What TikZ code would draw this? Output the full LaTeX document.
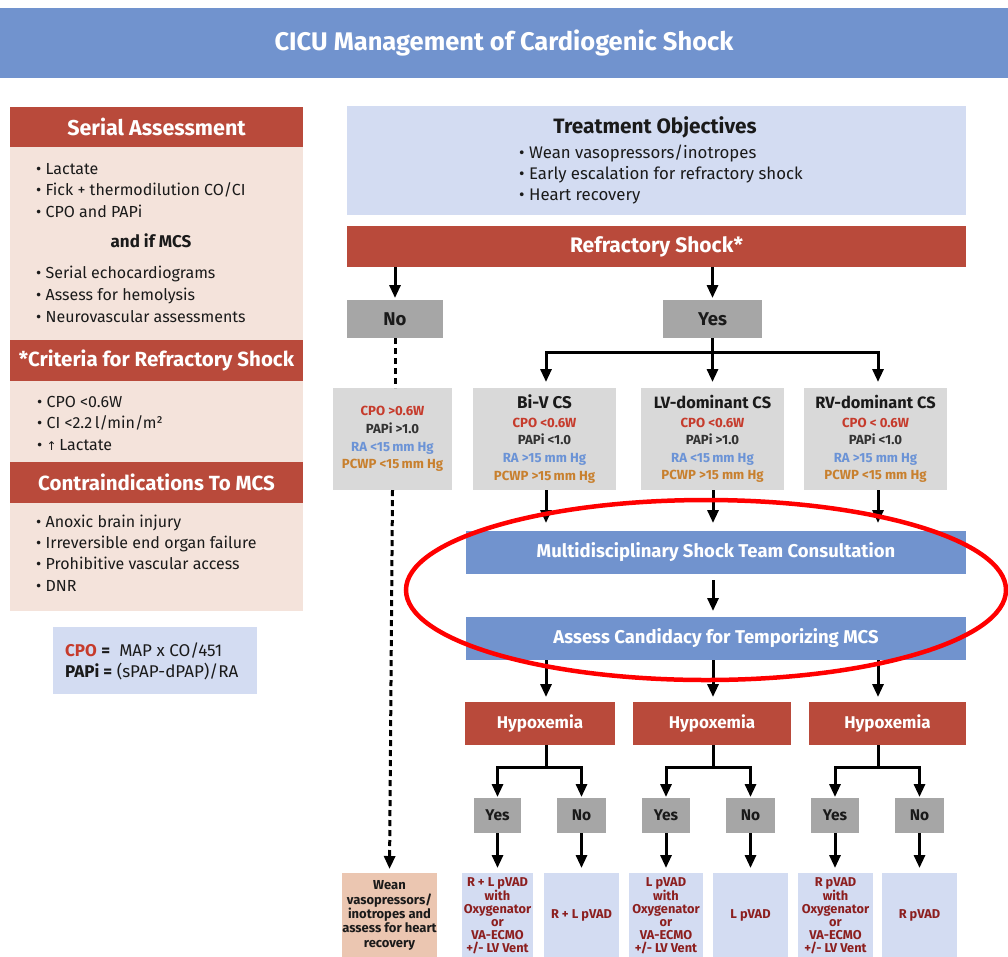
\documentclass[tikz,border=0pt]{standalone}
\usepackage{fontspec}
\setmainfont{Fira Sans}
\newfontfamily\symfont{DejaVu Sans}
\usetikzlibrary{arrows.meta,calc}

\definecolor{hdrblue}{HTML}{7193CE}
\definecolor{boxred}{HTML}{B94A3B}
\definecolor{peach}{HTML}{F4E3DB}
\definecolor{paleblue}{HTML}{D3DCF2}
\definecolor{midgray}{HTML}{A6A6A6}
\definecolor{lightgray}{HTML}{D9D9D9}
\definecolor{weanpeach}{HTML}{EBC6B1}
\definecolor{darkred}{HTML}{8C1F1F}
\definecolor{cpored}{HTML}{C63B2C}
\definecolor{rablue}{HTML}{6B93D6}
\definecolor{pcwporange}{HTML}{C8802E}
\definecolor{ink}{HTML}{1A1A1A}
\definecolor{papigray}{HTML}{333333}

\newcommand{\fs}[2]{\fontsize{#1}{#2}\selectfont}
% rectangle node from corner (x1,y1) to corner (x2,y2)
\newcommand{\rbox}[7]{%
  \node[#6, minimum width={(#4-#2)*1pt}, minimum height={(#5-#3)*1pt}]
    (#1) at ({(#2+#4)/2},{(#3+#5)/2}) {#7};}

\tikzset{
  flat/.style={inner sep=0pt, outer sep=0pt},
  bluebar/.style={flat, fill=hdrblue, text=white, font=\fs{18.5}{20}\bfseries},
  redbar/.style={flat, fill=boxred, text=white, font=\fs{20.5}{22}\bfseries},
  peachbody/.style={flat, fill=peach},
  palebox/.style={flat, fill=paleblue},
  choice/.style={flat, fill=midgray, text=ink, font=\fs{18.5}{20}\bfseries},
  smallchoice/.style={flat, fill=midgray, text=ink, font=\fs{15.5}{18}\bfseries},
  csbox/.style={flat, fill=lightgray, align=center, font=\fs{13.2}{17.6}\bfseries},
  outbox/.style={flat, fill=paleblue, text=darkred, align=center, font=\fs{12.8}{13}\bfseries},
  weanbox/.style={flat, fill=weanpeach, text=ink, align=center, font=\fs{13}{14.3}\bfseries},
  ln/.style={anchor=base west, inner sep=0pt, font=\fs{16}{19}, text=ink},
  lnc/.style={anchor=base, inner sep=0pt, font=\fs{17}{19}\bfseries, text=ink},
  tol/.style={anchor=base west, inner sep=0pt, font=\fs{16.8}{18}, text=ink},
  conn/.style={line width=3pt, black},
  arr/.style={conn, -{Triangle[width=11pt,length=13pt]}},
  dashconn/.style={conn, dash pattern=on 6pt off 4pt},
}

\begin{document}
\begin{tikzpicture}[x=1pt,y=-1pt]
\useasboundingbox[fill=white] (0,0) rectangle (1008,956);

% ---------- title bar ----------
\rbox{hdr}{0}{8}{1008}{78}{flat, fill=hdrblue, text=white, font=\fs{25.5}{28}\bfseries}{CICU Management of Cardiogenic Shock}

% ---------- left column ----------
\rbox{sab}{10}{147}{303}{340}{peachbody}{}
\rbox{sah}{10}{107}{303}{147}{redbar, font=\fs{21.5}{22}\bfseries}{Serial Assessment}
\node[ln] (s1) at (36,174) {\textbullet\ Lactate};
\node[ln] (s2) at (36,195.5) {\textbullet\ Fick + thermodilution CO/CI};
\node[ln] (s3) at (36,217) {\textbullet\ CPO and PAPi};
\node[lnc] (s4) at (151,247.5) {and if MCS};
\node[ln] (s5) at (36,278.5) {\textbullet\ Serial echocardiograms};
\node[ln] (s6) at (36,300.5) {\textbullet\ Assess for hemolysis};
\node[ln] (s7) at (36,322) {\textbullet\ Neurovascular assessments};

\rbox{crb}{10}{381}{303}{462}{peachbody}{}
\rbox{crh}{10}{340}{303}{381}{redbar}{*Criteria for Refractory Shock}
\node[ln] (c1) at (37,407.5) {\textbullet\ CPO <0.6W};
\node[ln] (c2) at (37,428.5) {\textbullet\ CI <2.2\,l/min/m²};
\node[ln] (c3) at (37,450) {\textbullet\ {\symfont\fs{12}{14}↑}\,Lactate};

\rbox{cib}{10}{503}{303}{611}{peachbody}{}
\rbox{cih}{10}{462}{303}{503}{redbar}{Contraindications To MCS}
\node[ln] (k1) at (36,527) {\textbullet\ Anoxic brain injury};
\node[ln] (k2) at (36,548) {\textbullet\ Irreversible end organ failure};
\node[ln] (k3) at (36,569.5) {\textbullet\ Prohibitive vascular access};
\node[ln] (k4) at (36,591) {\textbullet\ DNR};

\rbox{frm}{53}{627}{257}{694}{palebox}{}
\node[ln, font=\fs{17}{19}] (f1) at (65,656) {{\bfseries\color{cpored}CPO} {\bfseries =}\ \ MAP x CO/451};
\node[ln, font=\fs{17}{19}] (f2) at (65,677) {{\bfseries PAPi =} (sPAP-dPAP)/RA};

% ---------- treatment objectives ----------
\rbox{tob}{347}{106}{966}{215}{palebox}{}
\node[anchor=base, inner sep=0pt, font=\fs{20.8}{22}\bfseries, text=ink] (tot) at (655,133) {Treatment Objectives};
\node[tol] (t1) at (519,158.5) {\textbullet\ Wean vasopressors/inotropes};
\node[tol] (t2) at (519,179.5) {\textbullet\ Early escalation for refractory shock};
\node[tol] (t3) at (519,200.5) {\textbullet\ Heart recovery};

\rbox{refr}{347}{226}{966}{267}{redbar, font=\fs{21}{22}\bfseries}{Refractory Shock*}

% ---------- first decision ----------
\rbox{no}{347}{300}{443}{338}{choice}{No}
\rbox{yes}{663}{300}{762}{338}{choice}{Yes}

\coordinate (col1) at (546,0);
\coordinate (col2) at (713,0);
\coordinate (col3) at (878,0);

\rbox{nop}{333}{388}{452}{490}{csbox}{%
  {\color{cpored}CPO >0.6W}\\
  {\color{papigray}PAPi >1.0}\\
  {\color{rablue}RA <15\,mm Hg}\\
  {\color{pcwporange}PCWP <15\,mm Hg}}
\rbox{biv}{473}{388}{616}{490}{csbox}{%
  {\fs{17}{18}\selectfont\color{ink}Bi-V CS}\\[1pt]
  {\color{cpored}CPO <0.6W}\\
  {\color{papigray}PAPi <1.0}\\
  {\color{rablue}RA >15 mm Hg}\\
  {\color{pcwporange}PCWP >15\,mm Hg}}
\rbox{lvd}{641}{388}{784}{490}{csbox}{%
  {\fs{16.4}{18}\selectfont\color{ink}LV-dominant CS}\\[1pt]
  {\color{cpored}CPO <0.6W}\\
  {\color{papigray}PAPi >1.0}\\
  {\color{rablue}RA <15\,mm Hg}\\
  {\color{pcwporange}PCWP >15 mm Hg}}
\rbox{rvd}{804}{388}{947}{490}{csbox}{%
  {\fs{16.4}{18}\selectfont\color{ink}RV-dominant CS}\\[1pt]
  {\color{cpored}CPO < 0.6W}\\
  {\color{papigray}PAPi <1.0}\\
  {\color{rablue}RA >15 mm Hg}\\
  {\color{pcwporange}PCWP <15 mm Hg}}

% ---------- team consultation ----------
\rbox{multi}{466}{531}{966}{574}{bluebar}{Multidisciplinary Shock Team Consultation}
\rbox{assess}{466}{617}{966}{660}{bluebar}{Assess Candidacy for Temporizing MCS}

% ---------- hypoxemia branches ----------
\rbox{hyp1}{465}{702}{615}{745}{redbar, font=\fs{17}{20}\bfseries}{Hypoxemia}
\rbox{hyp2}{633}{702}{791}{745}{redbar, font=\fs{17}{20}\bfseries}{Hypoxemia}
\rbox{hyp3}{809}{702}{966}{745}{redbar, font=\fs{17}{20}\bfseries}{Hypoxemia}

\rbox{y1}{474}{798}{521}{833}{smallchoice}{Yes}
\rbox{n1}{557}{798}{606}{833}{smallchoice}{No}
\rbox{y2}{642}{798}{690}{833}{smallchoice}{Yes}
\rbox{n2}{726}{798}{775}{833}{smallchoice}{No}
\rbox{y3}{811}{798}{859}{833}{smallchoice}{Yes}
\rbox{n3}{895}{798}{944}{833}{smallchoice}{No}

% ---------- outcomes ----------
\rbox{wean}{343}{873}{436}{958}{weanbox}{Wean\\vasopressors/\\inotropes and\\assess for heart\\recovery}
\rbox{o1}{462}{873}{533}{958}{outbox}{R + L pVAD\\with\\Oxygenator\\or\\VA-ECMO\\+/- LV Vent}
\rbox{o2}{544}{873}{619}{958}{outbox}{R + L pVAD}
\rbox{o3}{629}{873}{703}{958}{outbox}{L pVAD\\with\\Oxygenator\\or\\VA-ECMO\\+/- LV Vent}
\rbox{o4}{713}{873}{788}{958}{outbox}{L pVAD}
\rbox{o5}{798}{873}{873}{958}{outbox}{R pVAD\\with\\Oxygenator\\or\\VA-ECMO\\+/- LV Vent}
\rbox{o6}{882}{873}{957}{958}{outbox}{R pVAD}

% ---------- connectors ----------
\draw[arr, shorten >=2pt] (refr.south -| no.north) -- (no.north);
\draw[arr, shorten >=2pt] (refr.south -| yes.north) -- (yes.north);

\draw[arr, shorten >=6pt] (yes.south) -- ++(0,14) -| (col1 |- biv.north);
\draw[arr, shorten >=6pt] (yes.south) -- (yes.south |- lvd.north);
\draw[arr, shorten >=6pt] (yes.south) -- ++(0,14) -| (col3 |- rvd.north);

\draw[dashconn] (no.south) -- (no.south |- nop.north);
\draw[dashconn, -{Triangle[width=11pt,length=13pt]}, shorten >=4pt] (nop.south) -- (wean.north);

\draw[arr, shorten >=8pt] (col1 |- biv.south) -- (col1 |- multi.north);
\draw[arr, shorten >=8pt] (col2 |- lvd.south) -- (col2 |- multi.north);
\draw[arr, shorten >=8pt] (col3 |- rvd.south) -- (col3 |- multi.north);

\draw[arr, shorten <=6pt, shorten >=6pt] (multi.south -| col2) -- (assess.north -| col2);

\draw[arr, shorten >=5pt] (col1 |- assess.south) -- (col1 |- hyp1.north);
\draw[arr, shorten >=5pt] (col2 |- assess.south) -- (col2 |- hyp2.north);
\draw[arr, shorten >=5pt] (col3 |- assess.south) -- (col3 |- hyp3.north);

\draw[arr, shorten >=1pt] (col1 |- hyp1.south) -- ++(0,22) -| (y1.north);
\draw[arr, shorten >=1pt] (col1 |- hyp1.south) -- ++(0,22) -| (n1.north);
\draw[arr, shorten >=1pt] (col2 |- hyp2.south) -- ++(0,22) -| (y2.north);
\draw[arr, shorten >=1pt] (col2 |- hyp2.south) -- ++(0,22) -| (n2.north);
\draw[arr, shorten >=1pt] (col3 |- hyp3.south) -- ++(0,22) -| (y3.north);
\draw[arr, shorten >=1pt] (col3 |- hyp3.south) -- ++(0,22) -| (n3.north);

\draw[arr, shorten >=5pt] (y1.south) -- (y1.south |- o1.north);
\draw[arr, shorten >=5pt] (n1.south) -- (n1.south |- o2.north);
\draw[arr, shorten >=5pt] (y2.south) -- (y2.south |- o3.north);
\draw[arr, shorten >=5pt] (n2.south) -- (n2.south |- o4.north);
\draw[arr, shorten >=5pt] (y3.south) -- (y3.south |- o5.north);
\draw[arr, shorten >=5pt] (n3.south) -- (n3.south |- o6.north);

% ---------- red highlight ring ----------
\draw[red, line width=4.5pt] (706,590) ellipse [x radius=300, y radius=90];
\end{tikzpicture}
\end{document}
